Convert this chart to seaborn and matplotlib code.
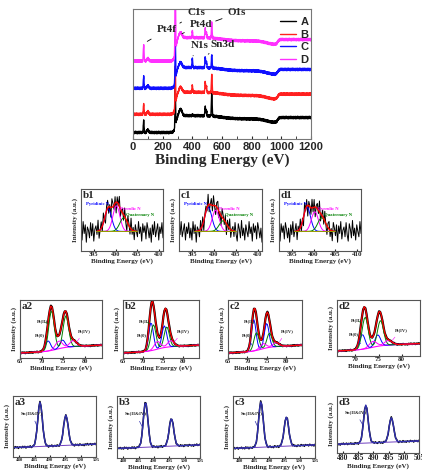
import numpy as np
import seaborn as sns
import matplotlib.pyplot as plt

# ---- data ----
SAMPLES = ['A', 'B', 'C', 'D']
SURVEY_COLORS = ['black', '#ff2020', '#1010ff', '#ff30ff']
SURVEY_OFFSET = [5, 19, 39, 60]
SURVEY_STEP = [13, 17, 16, 18]
PT4F_H = [9, 8, 9, 12]
C1S_H = [30, 30, 32, 60]
PT4D_H = [5, 4, 4, 4]
N1S_H = [0.5, 5, 7, 5]
SN3D_H = [7, 8, 8, 7]
O1S_H = [17, 14, 10, 12]

# N1s fits: pyridinic, pyrrolic, quaternary (center, height)
N1S_NAMES = ['b1', 'c1', 'd1']
PYRIDINIC = [(398.3, 0.75), (398.7, 0.80), (398.5, 0.80)]
PYRROLIC = [(400.2, 0.85), (400.4, 0.70), (400.3, 0.65)]
QUATERNARY = [(401.9, 0.45), (402.1, 0.35), (401.9, 0.45)]

# Pt4f fits: Pt(0), Pt(II), Pt(IV)  (4f7/2 center, height)
PT_NAMES = ['a2', 'b2', 'c2', 'd2']
PT0 = [(71.5, 0.20), (72.0, 0.55), (71.6, 0.62), (71.5, 0.30)]
PT2 = [(72.3, 0.78), (72.6, 0.50), (72.3, 0.35), (72.1, 0.65)]
PT4 = [(74.0, 0.15), (73.6, 0.15), (74.0, 0.10), (73.8, 0.12)]

# Sn3d: 3d5/2 center, heights of both peaks
SN_NAMES = ['a3', 'b3', 'c3', 'd3']
SN_CENTER = [486.8, 487.3, 487.2, 487.5]
SN_H1 = [0.85, 0.85, 0.86, 0.78]
SN_H2 = [0.58, 0.52, 0.55, 0.50]

NOISE = [0.3, -0.8, 0.9, -0.2, 0.6, -1.0, 0.4, 0.1, -0.6, 0.8, -0.4, 0.7, -0.9,
         0.2, 0.5, -0.3, 1.0, -0.7, 0.0, 0.6, -0.5, 0.9, -0.1, -0.8, 0.4, 0.7,
         -0.6, 0.2, -0.9, 0.8, 0.3, -0.4, 0.6, -1.0, 0.5, -0.2, 0.9, -0.7, 0.1,
         0.4, -0.5, 0.8, -0.3, -0.9, 0.7, 0.2, -0.6, 1.0, -0.4, 0.3, -0.8, 0.6,
         0.0, -0.5, 0.9, -0.2, 0.4, -0.9, 0.7, -0.1, 0.5, -0.7, 0.8, 0.2, -0.6,
         0.3, -1.0, 0.6, -0.3, 0.9, -0.5, 0.1, 0.7, -0.8, 0.4, -0.2, 0.8, -0.6]
NOISE = np.array(NOISE)


def gauss(x, c, h, w):
    return h * np.exp(-0.5 * ((x - c) / w) ** 2)


def step(x, c, s):
    return 1.0 / (1.0 + np.exp(-(x - c) / s))


sns.set_style('ticks')
plt.rcParams['font.family'] = ['Liberation Serif', 'DejaVu Serif']
plt.rcParams['font.weight'] = 'bold'
plt.rcParams['axes.linewidth'] = 0.8

W, H = 422, 470
fig = plt.figure(figsize=(W / 100, H / 100), dpi=100)


def box(l, t, r, b):
    return fig.add_axes([l / W, 1 - b / H, (r - l) / W, (b - t) / H])


def small_axes(ax, xlim, ticks, fs=4.5):
    ax.set_xlim(*xlim)
    ax.set_xticks(ticks)
    ax.set_xticklabels([str(t) for t in ticks], fontsize=fs, fontweight='bold')
    ax.set_yticks([])
    ax.tick_params(axis='x', direction='in', length=1.5, pad=1)
    ax.set_xlabel('Binding Energy (eV)', fontsize=5, fontweight='bold', labelpad=0.5)
    ax.set_ylabel('Intensity (a.u.)', fontsize=5, fontweight='bold', labelpad=2)
    for s in ax.spines.values():
        s.set_color('#555555')


# ---- survey ----
ax = box(133, 9, 311, 139)
xs = np.linspace(0, 1200, 1200)
tiled = np.resize(NOISE, xs.size)
for i, name in enumerate(SAMPLES):
    y = (SURVEY_OFFSET[i] + SURVEY_STEP[i] * step(xs, 288, 6)
         + gauss(xs, 72, PT4F_H[i], 2.5) + gauss(xs, 100, 2, 6)
         + gauss(xs, 285, C1S_H[i], 2.0) + gauss(xs, 320, PT4D_H[i], 10)
         + gauss(xs, 400, N1S_H[i], 2.5) + gauss(xs, 487, SN3D_H[i], 2.5)
         + gauss(xs, 495, SN3D_H[i] * 0.6, 2.5) + gauss(xs, 531, O1S_H[i], 2.5)
         - 2.5 * step(xs, 600, 40) - 3 * step(xs, 900, 25)
         + 4 * step(xs, 975, 5) + 1.0 * np.roll(tiled, 7 * i))
    sns.lineplot(x=xs, y=y, ax=ax, color=SURVEY_COLORS[i], lw=1.0, label=name)
ax.set_xlim(0, 1200)
ax.set_ylim(0, 100)
ax.set_xticks(range(0, 1201, 200))
ax.set_xticklabels([str(v) for v in range(0, 1201, 200)], fontsize=8,
                   fontweight='bold', family='Liberation Sans')
ax.set_xticks(range(100, 1200, 200), minor=True)
ax.set_yticks([])
ax.tick_params(axis='x', which='both', direction='in', length=2, pad=2)
ax.set_xlabel('Binding Energy (eV)', fontsize=11, fontweight='bold', labelpad=1)
ax.legend(loc='upper right', frameon=False, handlelength=1.4, handletextpad=0.4,
          labelspacing=0.25, borderaxespad=0.3, bbox_to_anchor=(1.03, 1.0),
          prop={'family': 'Liberation Sans', 'weight': 'bold', 'size': 8})
for s in ax.spines.values():
    s.set_color('#777777')
ann = [('Pt4f', (160, 82), (80, 74)), ('C1s', (365, 95), (300, 88)),
       ('Pt4d', (385, 86), (330, 81)), ('N1s', (390, 70), (405, 64)),
       ('Sn3d', (520, 71), (492, 64)), ('O1s', (640, 95), (540, 90))]
for txt, tp, pp in ann:
    ax.annotate(txt, xy=pp, xytext=tp, fontsize=8, fontweight='bold',
                arrowprops=dict(arrowstyle='-', lw=0.6, color='black'))

# ---- N1s ----
n1_boxes = [(81, 189, 163, 251), (179, 189, 262, 251), (279, 189, 361, 251)]
xn = np.linspace(392, 411, NOISE.size)
for i, name in enumerate(N1S_NAMES):
    ax = box(*n1_boxes[i])
    g1 = gauss(xn, PYRIDINIC[i][0], PYRIDINIC[i][1], 0.8)
    g2 = gauss(xn, PYRROLIC[i][0], PYRROLIC[i][1], 0.8)
    g3 = gauss(xn, QUATERNARY[i][0], QUATERNARY[i][1], 0.9)
    env = g1 + g2 + g3
    data = env + 0.36 * np.roll(NOISE, 11 * i)
    sns.lineplot(x=xn, y=data, ax=ax, color='black', lw=0.7)
    m = (xn > 395.5) & (xn < 405)
    sns.lineplot(x=xn[m], y=g1[m], ax=ax, color='blue', lw=0.7)
    sns.lineplot(x=xn[m], y=g2[m], ax=ax, color='magenta', lw=0.7)
    sns.lineplot(x=xn[m], y=g3[m], ax=ax, color='green', lw=0.7)
    sns.lineplot(x=xn[m], y=env[m], ax=ax, color='red', lw=1.0)
    ax.plot([395.5, 405], [0, 0], color='#9a9a00', lw=0.7)
    ax.set_ylim(-0.65, 1.4)
    small_axes(ax, (392, 411), [395, 400, 405, 410], fs=5 if i == 2 else 4.5)
    ax.text(0.02, 0.97, name, transform=ax.transAxes, fontsize=8,
            fontweight='bold', va='top')
    ax.text(0.06, 0.74, 'Pyridinic N', transform=ax.transAxes, fontsize=3.3,
            color='blue', fontweight='bold')
    ax.text(0.48, 0.66, 'Pyrrolic N', transform=ax.transAxes, fontsize=3.3,
            color='magenta', fontweight='bold')
    ax.text(0.55, 0.56, 'Quaternary N', transform=ax.transAxes, fontsize=3.3,
            color='green', fontweight='bold')

# ---- Pt4f ----
pt_boxes = [(20, 300, 102, 358), (123, 300, 199, 358), (228, 300, 302, 358),
            (337, 300, 420, 356)]
xp = np.linspace(65, 84, NOISE.size)
for i, name in enumerate(PT_NAMES):
    ax = box(*pt_boxes[i])
    bg = 0.08 * step(xp, 73.5, 1.2) + 0.004 * (xp - 65)
    p0 = gauss(xp, PT0[i][0], PT0[i][1], 0.6) + gauss(xp, PT0[i][0] + 3.33, PT0[i][1] * 0.78, 0.6)
    p2 = gauss(xp, PT2[i][0], PT2[i][1], 0.65) + gauss(xp, PT2[i][0] + 3.33, PT2[i][1] * 0.8, 0.65)
    p4 = gauss(xp, PT4[i][0], PT4[i][1], 0.8) + gauss(xp, PT4[i][0] + 3.33, PT4[i][1] * 0.8, 0.8)
    env = bg + p0 + p2 + p4
    sns.lineplot(x=xp, y=env + 0.01 * NOISE, ax=ax, color='black', lw=1.6)
    sns.lineplot(x=xp, y=bg, ax=ax, color='magenta', lw=0.8)
    sns.lineplot(x=xp, y=bg + p0, ax=ax, color='blue', lw=0.7)
    sns.lineplot(x=xp, y=bg + p2, ax=ax, color='green', lw=0.7)
    sns.lineplot(x=xp, y=bg + p4, ax=ax, color='magenta', lw=0.7)
    sns.lineplot(x=xp, y=env, ax=ax, color='red', lw=0.9)
    ax.set_ylim(-0.1, 1.05)
    if i == 3:
        small_axes(ax, (66, 84), [70, 75, 80], fs=5)
    else:
        small_axes(ax, (65, 84), [65, 70, 75, 80])
    ax.text(0.02, 0.97, name, transform=ax.transAxes, fontsize=8,
            fontweight='bold', va='top')
    c2, c0, c4 = PT2[i][0], PT0[i][0], PT4[i][0] + 3.33
    ax.annotate('Pt(II)', xy=(c2 - 0.3, 0.55), xytext=(69, 0.62), fontsize=3.3,
                fontweight='bold', arrowprops=dict(arrowstyle='-', lw=0.4, color='green'))
    ax.annotate('Pt(0)', xy=(c0 - 0.4, 0.15), xytext=(68.5, 0.33), fontsize=3.3,
                fontweight='bold', arrowprops=dict(arrowstyle='-', lw=0.4, color='blue'))
    ax.annotate('Pt(IV)', xy=(c4 + 0.5, 0.18), xytext=(78.5, 0.42), fontsize=3.3,
                fontweight='bold', arrowprops=dict(arrowstyle='-', lw=0.4, color='magenta'))

# ---- Sn3d ----
sn_boxes = [(13, 396, 96, 457), (117, 396, 200, 458), (233, 396, 315, 458),
            (337, 396, 419, 453)]
xsn = np.linspace(478, 505, NOISE.size)
for i, name in enumerate(SN_NAMES):
    ax = box(*sn_boxes[i])
    bg = 0.06 + 0.0025 * (xsn - 478)
    c = SN_CENTER[i]
    pk = gauss(xsn, c, SN_H1[i], 0.75) + gauss(xsn, c + 8.4, SN_H2[i], 0.75)
    sns.lineplot(x=xsn, y=bg + pk + 0.02 * np.roll(NOISE, 5 * i), ax=ax,
                 color='black', lw=1.1)
    sns.lineplot(x=xsn, y=bg, ax=ax, color='#7040c0', lw=0.7)
    sns.lineplot(x=xsn, y=bg + pk, ax=ax, color='#3030b0', lw=1.0)
    ax.set_ylim(-0.12, 1.05)
    small_axes(ax, (478, 505), [480, 485, 490, 495, 500, 505],
               fs=5.5 if i == 3 else 3.5)
    ax.text(0.02, 0.97, name, transform=ax.transAxes, fontsize=8,
            fontweight='bold', va='top')
    ax.annotate('Sn(II&IV)', xy=(c - 0.5, 0.4), xytext=(480.5, 0.7), fontsize=3.5,
                fontweight='bold', arrowprops=dict(arrowstyle='-', lw=0.5, color='#3030b0'))

fig.savefig('out.png', dpi=100)
